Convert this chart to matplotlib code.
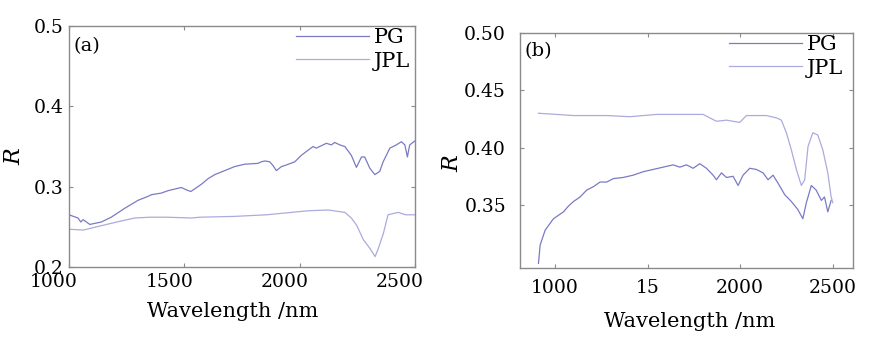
import numpy as np
import matplotlib
matplotlib.use("Agg")
import matplotlib.pyplot as plt
from matplotlib.transforms import ScaledTranslation

# (a) reflectance spectra, 1000-2500 nm
wl_a_pg = [1000, 1039, 1051, 1061, 1090, 1140, 1183, 1241, 1299, 1343, 1357, 1400, 1429,
           1487, 1509, 1528, 1574, 1603, 1632, 1675, 1718, 1762, 1819, 1834, 1849, 1870,
           1885, 1899, 1921, 1942, 1979, 2007, 2058, 2072, 2116, 2137, 2152, 2174, 2196,
           2224, 2246, 2268, 2282, 2304, 2326, 2347, 2362, 2391, 2419, 2441, 2456, 2467,
           2477, 2500]
r_a_pg = [0.265, 0.261, 0.256, 0.259, 0.253, 0.256, 0.262, 0.273, 0.283, 0.288, 0.290, 0.292, 0.295,
          0.299, 0.296, 0.294, 0.303, 0.310, 0.315, 0.320, 0.325, 0.328, 0.329, 0.331, 0.332, 0.331,
          0.326, 0.320, 0.325, 0.327, 0.331, 0.339, 0.350, 0.348, 0.354, 0.352, 0.355, 0.352, 0.350,
          0.339, 0.324, 0.337, 0.337, 0.323, 0.315, 0.319, 0.331, 0.348, 0.352, 0.356, 0.352, 0.337,
          0.352, 0.357]

wl_a_jpl = [1000, 1062, 1134, 1207, 1285, 1351, 1424, 1530, 1568, 1718, 1857, 2036,
            2123, 2196, 2224, 2247, 2276, 2305, 2327, 2341, 2363, 2383, 2427, 2460, 2500]
r_a_jpl = [0.247, 0.246, 0.251, 0.256, 0.261, 0.262, 0.262, 0.261, 0.262, 0.263, 0.265, 0.270,
           0.271, 0.268, 0.261, 0.252, 0.234, 0.223, 0.213, 0.223, 0.242, 0.265, 0.268, 0.265, 0.265]

# (b) reflectance spectra, 900-2500 nm
wl_b_pg = [910, 919, 946, 991, 1018, 1045, 1072, 1099, 1135, 1171, 1207, 1243, 1279,
           1315, 1368, 1422, 1476, 1530, 1584, 1638, 1674, 1710, 1746, 1782, 1818, 1854,
           1872, 1899, 1926, 1962, 1989, 2016, 2052, 2088, 2124, 2151, 2178, 2205, 2241,
           2277, 2312, 2339, 2358, 2385, 2411, 2439, 2456, 2474, 2492]
r_b_pg = [0.299, 0.315, 0.328, 0.338, 0.341, 0.344, 0.349, 0.353, 0.357, 0.363, 0.366, 0.370, 0.370,
          0.373, 0.374, 0.376, 0.379, 0.381, 0.383, 0.385, 0.383, 0.385, 0.382, 0.386, 0.382, 0.376,
          0.372, 0.378, 0.374, 0.375, 0.367, 0.376, 0.382, 0.381, 0.378, 0.372, 0.376, 0.369, 0.359,
          0.353, 0.346, 0.338, 0.352, 0.367, 0.363, 0.354, 0.357, 0.344, 0.354]

wl_b_jpl = [910, 1009, 1099, 1279, 1405, 1549, 1728, 1800, 1836, 1872, 1926, 1998, 2034,
            2142, 2196, 2223, 2250, 2277, 2304, 2331, 2349, 2367, 2393, 2420, 2447, 2474, 2492, 2501]
r_b_jpl = [0.430, 0.429, 0.428, 0.428, 0.427, 0.429, 0.429, 0.429, 0.426, 0.423, 0.424, 0.422, 0.428,
           0.428, 0.426, 0.424, 0.413, 0.398, 0.381, 0.367, 0.372, 0.401, 0.413, 0.411, 0.398, 0.378, 0.357, 0.352]

xticks_a = [1000, 1500, 2000, 2500]
xticklabels_a = ["1000", "1500", "2000", "2500"]
yticks_a = [0.2, 0.3, 0.4, 0.5]
xticks_b = [1000, 1500, 2000, 2500]
xticklabels_b = ["1000", "15", "2000", "2500"]
yticks_b = [0.35, 0.40, 0.45, 0.50]

PG_COLOR = "#7a7ac6"
JPL_COLOR = "#ababdd"
SPINE = "#8a8a8a"

plt.rcParams["font.family"] = ["DejaVu Serif"]
plt.rcParams["mathtext.fontset"] = "dejavuserif"

fig = plt.figure(figsize=(8.77, 3.37), dpi=100)
ax_a = fig.add_axes([0.0787, 0.2077, 0.3945, 0.7151])
ax_b = fig.add_axes([0.5929, 0.2047, 0.3797, 0.6973])


def style(ax):
    for s in ax.spines.values():
        s.set_color(SPINE)
        s.set_linewidth(1.0)
    ax.tick_params(direction="in", length=3, width=0.8, color=SPINE,
                   top=True, right=True)


# panel (a)
ax_a.plot(wl_a_pg, r_a_pg, color=PG_COLOR, lw=0.9, label="PG")
ax_a.plot(wl_a_jpl, r_a_jpl, color=JPL_COLOR, lw=0.9, label="JPL")
ax_a.set_xlim(1000, 2500)
ax_a.set_ylim(0.2, 0.5)
ax_a.set_xticks(xticks_a)
ax_a.set_xticklabels(xticklabels_a)
ax_a.set_yticks(yticks_a)
ax_a.set_yticklabels(["0.2", "0.3", "0.4", "0.5"])
style(ax_a)
ax_a.tick_params(labelsize=13.5, pad=4)
shift = ScaledTranslation(-15 / 100, 0, fig.dpi_scale_trans)
for lab in ax_a.get_xticklabels():
    lab.set_transform(lab.get_transform() + shift)
ax_a.set_xlabel("Wavelength /nm", fontsize=15)
ax_a.xaxis.set_label_coords(0.474, -0.145)
ax_a.set_ylabel("$R$", fontsize=16)
ax_a.yaxis.set_label_coords(-0.127, 0.46)
ax_a.text(0.012, 0.955, "(a)", transform=ax_a.transAxes, fontsize=14,
          ha="left", va="top")
ax_a.legend(loc="upper right", bbox_to_anchor=(0.9855, 0.99), frameon=False,
            fontsize=15, handlelength=3.5, handletextpad=0.25, labelspacing=0.2,
            borderpad=0, borderaxespad=0)

# panel (b)
ax_b.plot(wl_b_pg, r_b_pg, color=PG_COLOR, lw=0.9, label="PG")
ax_b.plot(wl_b_jpl, r_b_jpl, color=JPL_COLOR, lw=0.9, label="JPL")
ax_b.set_xlim(810, 2610)
ax_b.set_ylim(0.295, 0.50)
ax_b.set_xticks(xticks_b)
ax_b.set_xticklabels(xticklabels_b)
ax_b.set_yticks(yticks_b)
ax_b.set_yticklabels(["0.35", "0.40", "0.45", "0.50"])
style(ax_b)
ax_b.tick_params(labelsize=13.5)
ax_b.tick_params(axis="x", pad=8)
ax_b.tick_params(axis="y", pad=10)
ax_b.set_xlabel("Wavelength /nm", fontsize=15)
ax_b.xaxis.set_label_coords(0.51, -0.187)
ax_b.set_ylabel("$R$", fontsize=16)
ax_b.yaxis.set_label_coords(-0.171, 0.447)
ax_b.text(0.015, 0.96, "(b)", transform=ax_b.transAxes, fontsize=14,
          ha="left", va="top")
ax_b.legend(loc="upper right", bbox_to_anchor=(0.97, 0.99), frameon=False,
            fontsize=15, handlelength=3.5, handletextpad=0.25, labelspacing=0.2,
            borderpad=0, borderaxespad=0)

fig.savefig("out.png", dpi=100)
